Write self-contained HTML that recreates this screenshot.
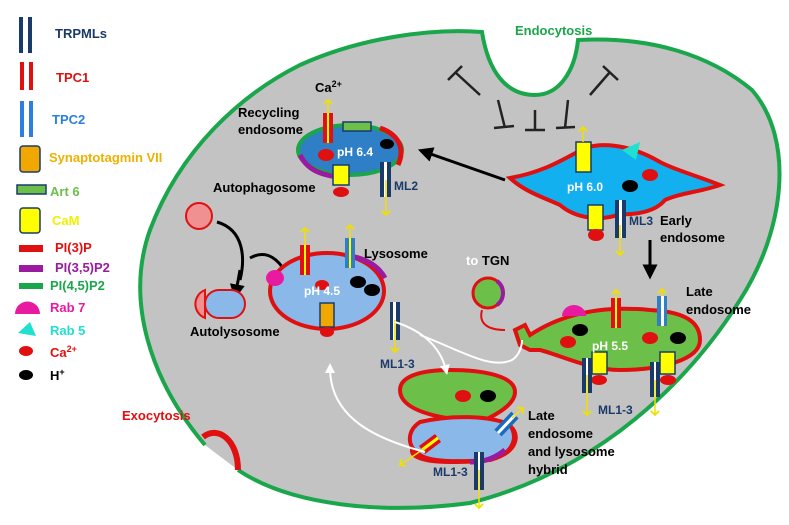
<!DOCTYPE html>
<html><head><meta charset="utf-8"><style>
body{margin:0;background:#fff}
svg{display:block;font-family:"Liberation Sans",sans-serif;font-weight:bold}
</style></head><body>
<svg width="789" height="525" viewBox="0 0 789 525">
<defs>
<marker id="ay" markerWidth="6" markerHeight="6" refX="3" refY="3" orient="auto"><path d="M0,0 L3,3 L0,6" fill="none" stroke="#f0e000" stroke-width="1.2"/></marker>
<marker id="ab" markerWidth="5" markerHeight="5" refX="2.5" refY="2.5" orient="auto"><path d="M0,0 L5,2.5 L0,5 z" fill="#000"/></marker>
<marker id="aw" markerWidth="5" markerHeight="5" refX="2.5" refY="2.5" orient="auto"><path d="M0,0 L5,2.5 L0,5 z" fill="#fff"/></marker>
</defs>
<!-- cell -->
<path d="M205,445 C150,380 125,300 150,230 C180,150 240,95 300,65 C360,38 430,28 482,32 C488,70 505,95 535,95 C560,95 575,70 578,40 C650,36 710,55 752,90 C795,140 785,230 740,300 C690,380 600,470 470,503 C380,515 290,505 238,470 Z" fill="#c3c3c3"/>
<path d="M238,470 C290,505 380,515 470,503 C600,470 690,380 740,300 C785,230 795,140 752,90 C710,55 650,36 578,40 C575,70 560,95 535,95 C505,95 488,70 482,32 C430,28 360,38 300,65 C240,95 180,150 150,230 C125,300 150,380 205,445" fill="none" stroke="#1aa64a" stroke-width="4"/>
<path d="M203,437 C218,425 238,440 238,470" fill="none" stroke="#e01010" stroke-width="6"/>
<text x="122" y="420" fill="#e01010" font-size="13">Exocytosis</text>
<text x="515" y="35" fill="#1aa64a" font-size="13">Endocytosis</text>
<g stroke="#222" stroke-width="2.5" fill="none">
<path d="M455,72 L480,95 M448,80 L462,66"/><path d="M498,100 L505,128 M494,128 L514,126"/>
<path d="M535,110 L535,130 M525,130 L545,130"/><path d="M568,100 L565,128 M556,128 L575,127"/>
<path d="M610,72 L590,95 M603,66 L618,80"/>
</g>
<!-- legend -->
<g font-size="13">
<rect x="19" y="17" width="4" height="36" fill="#1a3a6a"/><rect x="28" y="17" width="4" height="36" fill="#1a3a6a"/>
<text x="55" y="38" fill="#1a3a6a">TRPMLs</text>
<rect x="20" y="62" width="4" height="28" fill="#e01010"/><rect x="29" y="62" width="4" height="28" fill="#e01010"/>
<text x="56" y="82" fill="#e01010">TPC1</text>
<rect x="20" y="101" width="4" height="36" fill="#2a7fe0"/><rect x="29" y="101" width="4" height="36" fill="#2a7fe0"/>
<text x="52" y="124" fill="#2a7fe0">TPC2</text>
<rect x="20" y="146" width="20" height="26" rx="3" fill="#f0a800" stroke="#1a3a6a" stroke-width="1.5"/>
<text x="49" y="162" fill="#f0b000">Synaptotagmin VII</text>
<rect x="17" y="185" width="29" height="9" fill="#6cc04a" stroke="#1a3a6a" stroke-width="1.5"/>
<text x="50" y="196" fill="#6cc04a">Art 6</text>
<rect x="20" y="208" width="20" height="25" rx="3" fill="#ffff00" stroke="#1a3a6a" stroke-width="1.5"/>
<text x="52" y="225" fill="#f0f000">CaM</text>
<rect x="19" y="245" width="24" height="7" fill="#e01010"/><text x="55" y="252" fill="#e01010">PI(3)P</text>
<rect x="19" y="265" width="24" height="7" fill="#9a1aa0"/><text x="55" y="272" fill="#9a1aa0">PI(3,5)P2</text>
<rect x="19" y="283" width="24" height="6" fill="#1aa64a"/><text x="50" y="290" fill="#1aa64a">PI(4,5)P2</text>
<path d="M15,314 A12,12 0 0 1 40,314 Z" fill="#e81aa0"/><text x="50" y="312" fill="#e81aa0">Rab 7</text>
<path d="M18,333 L30,322 L36,336 Z" fill="#20e0d0"/><text x="50" y="335" fill="#20e0d0">Rab 5</text>
<ellipse cx="26" cy="351" rx="7" ry="5" fill="#e01010"/><text x="50" y="357" fill="#e01010">Ca<tspan font-size="9" dy="-5">2+</tspan></text>
<ellipse cx="26" cy="375" rx="7" ry="5" fill="#000"/><text x="50" y="380" fill="#000">H<tspan font-size="9" dy="-5">+</tspan></text>
</g>
<!-- recycling endosome -->
<g>
<ellipse cx="350" cy="150" rx="52" ry="25" fill="#2e7fc6" stroke="#1aa64a" stroke-width="4"/>
<path d="M300,155 C310,175 330,175 340,178" stroke="#9a1aa0" stroke-width="5" fill="none"/>
<path d="M380,128 C400,135 405,150 398,165" stroke="#e01010" stroke-width="5" fill="none"/>
<rect x="343" y="122" width="28" height="9" fill="#6cc04a" stroke="#1a3a6a" stroke-width="1.5"/>
<rect x="323" y="113" width="10" height="30" fill="#e01010"/><rect x="327" y="113" width="2" height="30" fill="#ff0"/>
<line x1="328" y1="113" x2="328" y2="100" stroke="#f0e000" stroke-width="1.5" marker-end="url(#ay)"/>
<ellipse cx="326" cy="155" rx="8" ry="6" fill="#e01010"/>
<ellipse cx="387" cy="144" rx="7" ry="5" fill="#000"/>
<rect x="333" y="165" width="16" height="20" fill="#ff0" stroke="#1a3a6a" stroke-width="1.5"/>
<ellipse cx="341" cy="192" rx="8" ry="5" fill="#e01010"/>
<rect x="380" y="162" width="11" height="35" fill="#1a3a6a"/><rect x="384" y="162" width="3" height="35" fill="#fff"/>
<line x1="386" y1="180" x2="386" y2="215" stroke="#f0e000" stroke-width="1.5" marker-end="url(#ay)"/>
<text x="337" y="156" fill="#fff" font-size="12">pH 6.4</text>
<text x="394" y="190" fill="#1a3a6a" font-size="12">ML2</text>
</g>
<text x="315" y="92" font-size="13">Ca<tspan font-size="9" dy="-5">2+</tspan></text>
<text x="238" y="117" font-size="13">Recycling</text>
<text x="238" y="134" font-size="13">endosome</text>
<!-- early endosome -->
<g>
<path d="M510,178 C545,172 565,158 585,148 C610,140 640,150 660,162 C675,170 695,175 720,185 C700,192 680,193 665,200 C655,212 635,215 620,214 C600,222 575,218 560,205 C545,198 525,192 510,178 Z" fill="#12b0ef" stroke="#e01010" stroke-width="4"/>
<path d="M622,150 L640,142 L636,160 Z" fill="#20e0d0"/>
<rect x="576" y="142" width="15" height="30" fill="#ff0" stroke="#1a3a6a" stroke-width="1.5"/>
<line x1="583" y1="142" x2="583" y2="127" stroke="#f0e000" stroke-width="1.5" marker-end="url(#ay)"/>
<rect x="588" y="205" width="15" height="25" fill="#ff0" stroke="#1a3a6a" stroke-width="1.5"/>
<ellipse cx="596" cy="235" rx="8" ry="6" fill="#e01010"/>
<rect x="615" y="200" width="11" height="38" fill="#1a3a6a"/><rect x="619" y="200" width="3" height="38" fill="#fff"/>
<line x1="620" y1="225" x2="620" y2="255" stroke="#f0e000" stroke-width="1.5" marker-end="url(#ay)"/>
<ellipse cx="630" cy="186" rx="8" ry="6" fill="#000"/>
<ellipse cx="650" cy="175" rx="8" ry="6" fill="#e01010"/>
<text x="567" y="191" fill="#fff" font-size="12">pH 6.0</text>
<text x="629" y="225" fill="#1a3a6a" font-size="12">ML3</text>
</g>
<text x="660" y="225" font-size="13">Early</text><text x="660" y="242" font-size="13">endosome</text>
<line x1="505" y1="180" x2="425" y2="152" stroke="#000" stroke-width="3" marker-end="url(#ab)"/>
<line x1="650" y1="240" x2="650" y2="272" stroke="#000" stroke-width="3" marker-end="url(#ab)"/>
<!-- autophagosome -->
<text x="213" y="192" font-size="13">Autophagosome</text>
<circle cx="199" cy="216" r="13" fill="#f09090" stroke="#e01010" stroke-width="2"/>
<path d="M217,222 C245,230 245,260 240,280 M250,258 C268,248 280,262 285,272" fill="none" stroke="#000" stroke-width="3"/>
<path d="M240,270 L236,292" stroke="#000" stroke-width="3" marker-end="url(#ab)"/>
<g>
<path d="M205,290 A15,15 0 0 0 205,318 Z" fill="#f09090" stroke="#e01010" stroke-width="2"/>
<rect x="205" y="290" width="40" height="28" rx="14" fill="#8ab8e8" stroke="#e01010" stroke-width="2"/>
</g>
<text x="190" y="336" font-size="13">Autolysosome</text>
<!-- lysosome -->
<g>
<ellipse cx="327" cy="291" rx="57" ry="38" fill="#8ab8e8" stroke="#e01010" stroke-width="4"/>
<path d="M345,255 C365,258 378,265 385,278" stroke="#9a1aa0" stroke-width="5" fill="none"/>
<ellipse cx="275" cy="278" rx="9" ry="8" fill="#e81aa0"/>
<rect x="300" y="245" width="10" height="30" fill="#e01010"/><rect x="304" y="245" width="2" height="30" fill="#ff0"/>
<line x1="305" y1="245" x2="305" y2="228" stroke="#f0e000" stroke-width="1.5" marker-end="url(#ay)"/>
<rect x="345" y="238" width="10" height="30" fill="#2e7fc6"/><rect x="349" y="238" width="2" height="30" fill="#ff0"/>
<line x1="350" y1="238" x2="350" y2="225" stroke="#f0e000" stroke-width="1.5" marker-end="url(#ay)"/>
<ellipse cx="322" cy="285" rx="7" ry="5" fill="#e01010"/>
<ellipse cx="358" cy="282" rx="8" ry="6" fill="#000"/><ellipse cx="372" cy="290" rx="8" ry="6" fill="#000"/>
<rect x="320" y="303" width="14" height="24" fill="#f0a800" stroke="#1a3a6a" stroke-width="1.5"/>
<ellipse cx="327" cy="332" rx="7" ry="5" fill="#e01010"/>
<rect x="390" y="302" width="10" height="38" fill="#1a3a6a"/><rect x="393" y="302" width="3" height="38" fill="#fff"/>
<line x1="395" y1="320" x2="395" y2="352" stroke="#f0e000" stroke-width="1.5" marker-end="url(#ay)"/>
<text x="304" y="295" fill="#fff" font-size="12">pH 4.5</text>
</g>
<text x="364" y="258" font-size="13">Lysosome</text>
<text x="380" y="368" fill="#1a3a6a" font-size="12">ML1-3</text>
<!-- to TGN -->
<text x="466" y="265" font-size="13"><tspan fill="#fff">to</tspan> TGN</text>
<circle cx="488" cy="293" r="15" fill="#6cc04a" stroke="#e01010" stroke-width="3"/>
<path d="M497,281 A15,15 0 0 1 497,305" stroke="#9a1aa0" stroke-width="4" fill="none"/>
<path d="M482,310 C478,325 490,330 505,330" stroke="#e01010" stroke-width="2" fill="none"/>
<!-- late endosome -->
<g>
<path d="M515,330 L525,325 L530,335 C560,315 600,305 650,310 C690,312 700,325 700,340 C700,360 660,370 620,370 C590,370 560,355 540,350 L530,350 L520,345 Z" fill="#6cc04a" stroke="#e01010" stroke-width="4"/>
<path d="M562,316 A12,11 0 0 1 586,316 Z" fill="#e81aa0"/>
<rect x="611" y="298" width="10" height="30" fill="#e01010"/><rect x="615" y="298" width="2" height="30" fill="#ff0"/>
<line x1="616" y1="298" x2="616" y2="290" stroke="#f0e000" stroke-width="1.5" marker-end="url(#ay)"/>
<rect x="657" y="296" width="10" height="30" fill="#2e7fc6"/><rect x="661" y="296" width="3" height="30" fill="#fff"/>
<line x1="662" y1="296" x2="662" y2="289" stroke="#f0e000" stroke-width="1.5" marker-end="url(#ay)"/>
<ellipse cx="580" cy="330" rx="8" ry="6" fill="#000"/><ellipse cx="568" cy="342" rx="8" ry="6" fill="#e01010"/>
<ellipse cx="650" cy="338" rx="8" ry="6" fill="#e01010"/><ellipse cx="678" cy="338" rx="8" ry="6" fill="#000"/>
<rect x="592" y="352" width="15" height="22" fill="#ff0" stroke="#1a3a6a" stroke-width="1.5"/>
<ellipse cx="599" cy="380" rx="8" ry="5" fill="#e01010"/>
<rect x="582" y="358" width="10" height="35" fill="#1a3a6a"/><rect x="586" y="358" width="2" height="35" fill="#fff"/>
<line x1="587" y1="375" x2="587" y2="415" stroke="#f0e000" stroke-width="1.5" marker-end="url(#ay)"/>
<rect x="660" y="352" width="15" height="22" fill="#ff0" stroke="#1a3a6a" stroke-width="1.5"/>
<ellipse cx="668" cy="380" rx="8" ry="5" fill="#e01010"/>
<rect x="650" y="362" width="10" height="35" fill="#1a3a6a"/><rect x="654" y="362" width="2" height="35" fill="#fff"/>
<line x1="655" y1="380" x2="655" y2="415" stroke="#f0e000" stroke-width="1.5" marker-end="url(#ay)"/>
<text x="592" y="350" fill="#fff" font-size="12">pH 5.5</text>
</g>
<text x="686" y="296" font-size="13">Late</text><text x="686" y="314" font-size="13">endosome</text>
<text x="598" y="414" fill="#1a3a6a" font-size="12">ML1-3</text>
<!-- hybrid -->
<g>
<path d="M460,420 C420,415 400,405 400,390 C400,375 425,370 450,370 C480,370 515,375 515,392 C515,405 495,415 485,420 C520,420 520,440 510,450 C500,460 480,462 450,462 C420,462 405,455 415,445 C420,430 430,422 460,420 Z" fill="#6cc04a" stroke="#e01010" stroke-width="4"/>
<path d="M420,422 C450,415 490,415 510,425 C520,440 510,455 490,460 C460,462 430,462 420,455 C405,445 408,430 420,422 Z" fill="#8ab8e8" stroke="#e01010" stroke-width="4"/>
<path d="M470,462 C485,462 495,458 505,450" stroke="#9a1aa0" stroke-width="5" fill="none"/>
<ellipse cx="463" cy="396" rx="8" ry="6" fill="#e01010"/><ellipse cx="488" cy="396" rx="8" ry="6" fill="#000"/>
<line x1="498" y1="433" x2="515" y2="415" stroke="#1a6ac0" stroke-width="10"/><line x1="498" y1="433" x2="515" y2="415" stroke="#fff" stroke-width="3"/>
<line x1="512" y1="418" x2="523" y2="408" stroke="#f0e000" stroke-width="1.5" marker-end="url(#ay)"/>
<line x1="422" y1="450" x2="438" y2="438" stroke="#e01010" stroke-width="10"/><line x1="422" y1="450" x2="438" y2="438" stroke="#ff0" stroke-width="3"/>
<line x1="425" y1="448" x2="400" y2="465" stroke="#f0e000" stroke-width="1.5" marker-end="url(#ay)"/>
<rect x="474" y="452" width="10" height="38" fill="#1a3a6a"/><rect x="478" y="452" width="2" height="38" fill="#fff"/>
<line x1="479" y1="470" x2="479" y2="508" stroke="#f0e000" stroke-width="1.5" marker-end="url(#ay)"/>
</g>
<text x="528" y="420" font-size="13">Late</text><text x="528" y="438" font-size="13">endosome</text>
<text x="528" y="456" font-size="13">and lysosome</text><text x="528" y="474" font-size="13">hybrid</text>
<text x="433" y="476" fill="#1a3a6a" font-size="12">ML1-3</text>
<!-- white arrows -->
<g stroke="#fff" stroke-width="2" fill="none">
<path d="M395,322 C420,330 440,345 446,370" marker-end="url(#aw)"/>
<path d="M425,452 C380,440 330,420 330,368" marker-end="url(#aw)"/>
<path d="M420,335 C460,350 490,370 512,360 C520,355 522,345 522,340"/>
</g>
</svg>
</body></html>
